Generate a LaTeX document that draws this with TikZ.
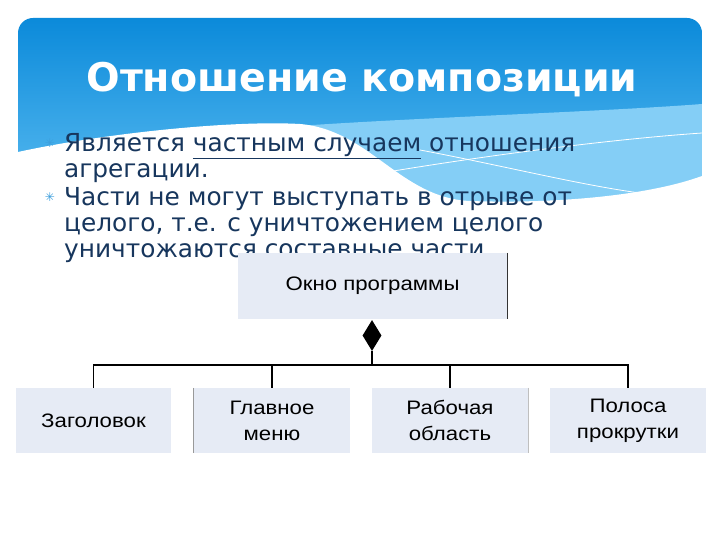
\documentclass[tikz,border=0pt]{standalone}
\usepackage{fontspec}
\setmainfont{DejaVu Sans}
\newfontfamily\boxfont[FakeStretch=1.14]{Liberation Sans}
\newfontfamily\symfont{DejaVu Sans}
\usetikzlibrary{shapes.geometric}
\definecolor{hdrtop}{HTML}{0B8ADA}
\definecolor{hdrbot}{HTML}{5EBEF2}
\definecolor{wavelight}{HTML}{84CEF6}
\definecolor{txtblue}{HTML}{17365D}
\definecolor{bulblue}{HTML}{3D9FDD}
\definecolor{boxfill}{HTML}{E6EBF5}
\tikzset{
  bodytext/.style={anchor=base west, inner sep=0pt, text=txtblue, font=\fontsize{24.8}{26}\selectfont},
  bul/.style={anchor=base, inner sep=0pt, text=bulblue, font=\symfont\fontsize{12}{12}\selectfont},
  umlbox/.style={fill=boxfill, inner sep=0pt, align=center, text=black, font=\boxfont\fontsize{19.5}{26}\selectfont},
  conn/.style={draw=black, line width=1.6pt},
}
\begin{document}
\begin{tikzpicture}[x=1pt,y=-1pt]
\useasboundingbox (0,0) rectangle (720,540);
\fill[white] (0,0) rectangle (720,540);
% header
\begin{scope}
\clip[rounded corners=15pt] (18,18) rectangle (702,280);
\shade[top color=hdrtop, bottom color=hdrbot] (18,18) rectangle (702,210);
\fill[wavelight] (270,128) .. controls (400,118) and (600,112) .. (702,104) -- (702,210) -- (300,210) -- cycle;
\fill[white] (18,152) .. controls (100,134) and (230,120) .. (300,124)
  .. controls (370,130) and (400,198) .. (470,201)
  .. controls (560,204) and (650,195) .. (702,176) -- (702,280) -- (18,280) -- cycle;
\draw[white, line width=0.8pt] (330,182) .. controls (450,160) and (600,140) .. (702,133);
\draw[white, line width=0.8pt] (420,150) .. controls (500,165) and (580,185) .. (640,193);
\end{scope}
\node[anchor=base, inner sep=0pt, text=white, font=\bfseries\fontsize{39.5}{46}\selectfont] (title) at (362,92) {Отношение композиции};
% bullets
\node[bul] (b1mark) at (50,148) {✳};
\node[bul] (b2mark) at (50,202) {✳};
\node[bodytext] (l1) at (64,152) {Является \underline{частным случаем} отношения};
\node[bodytext] (l2) at (64,178) {агрегации.};
\node[bodytext] (l3) at (64,206) {Части не могут выступать в отрыве от};
\node[bodytext] (l4) at (64,232) {целого, т.е. с уничтожением целого};
\node[bodytext] (l5) at (64,258) {уничтожаются составные части.};
% diagram image background
\fill[white] (10,266) rectangle (712,462);
% diagram
\node[umlbox, minimum width=269pt, minimum height=66pt] (win) at (372.5,286) {Окно программы};
\draw[black!80, line width=0.8pt] (win.north east) -- (win.south east);
\node[diamond, fill=black, inner sep=0pt, minimum width=19pt, minimum height=31pt] (dia) at (372,335.5) {};
\node[umlbox, minimum width=155pt, minimum height=65pt] (c1) at (93.5,420.5) {Заголовок};
\node[umlbox, minimum width=156pt, minimum height=65pt] (c2) at (272,420.5) {Главное\\меню};
\node[umlbox, minimum width=156pt, minimum height=65pt] (c3) at (450,420.5) {Рабочая\\область};
\node[umlbox, minimum width=156pt, minimum height=65pt] (c4) at (628,420.5) {Полоса\\прокрутки};
\draw[black!40, line width=0.8pt] (c2.north west) -- (c2.south west);
\draw[black!25, line width=0.8pt] (c3.north east) -- (c3.south east);
\coordinate (hub) at (372,365);
\draw[conn] (dia.south) -- (hub);
\draw[conn] (c1.north) -- (c1.north |- hub) -- (c4.north |- hub) -- (c4.north);
\draw[conn] (c2.north) -- (c2.north |- hub);
\draw[conn] (c3.north) -- (c3.north |- hub);
\end{tikzpicture}
\end{document}
